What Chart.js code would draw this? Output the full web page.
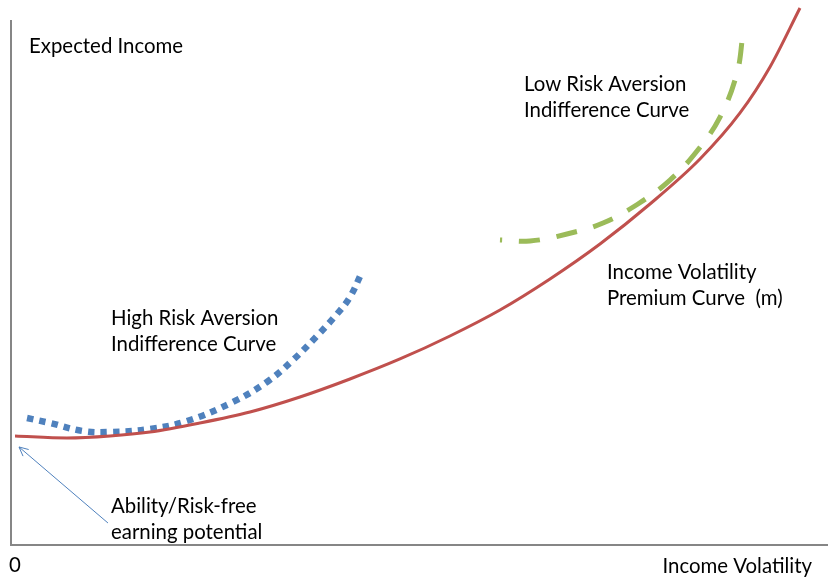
<!DOCTYPE html>
<html>
<head>
<meta charset="utf-8">
<script src="https://cdn.jsdelivr.net/npm/chart.js@4.4.1/dist/chart.umd.min.js"></script>
<style>
  html, body { margin: 0; padding: 0; background: #ffffff; }
  #wrap { width: 828px; height: 578px; }
</style>
</head>
<body>
<div id="wrap"><canvas id="c" width="828" height="578"></canvas></div>
<script>
// Values in chart units (x: income volatility 0..100, y: expected income 0..100)
const premiumX = [0.49, 6.85, 12.12, 17.01, 23.13, 29.25, 35.37, 41.49, 47.61, 53.73, 59.85, 65.97, 72.09, 78.21, 84.33, 89.23, 92.90, 96.57];
const premiumY = [20.76, 20.38, 20.76, 21.52, 23.24, 25.33, 28.19, 31.62, 35.43, 39.81, 44.76, 50.67, 57.33, 64.95, 73.52, 82.29, 91.05, 102.29];

const highX = [1.96, 4.77, 8.81, 12.12, 17.01, 21.54, 27.17, 31.33, 34.52, 37.45, 39.90, 41.49, 42.96];
const highY = [24.19, 23.24, 21.71, 21.52, 22.10, 23.62, 27.24, 31.05, 35.24, 39.81, 44.00, 47.24, 52.00];

const lowX = [59.85, 63.53, 68.05, 72.46, 76.74, 80.66, 83.97, 86.78, 88.86, 89.60];
const lowY = [58.10, 57.90, 59.24, 61.33, 64.95, 69.52, 75.05, 81.52, 89.90, 97.52];

const axisTitles = { y: 'Expected Income', x: 'Income Volatility', origin: '0' };
const curveLabels = {
  low: ['Low Risk Aversion', 'Indifference Curve'],
  premium: ['Income Volatility', 'Premium Curve  (m)'],
  high: ['High Risk Aversion', 'Indifference Curve'],
  ability: ['Ability/Risk-free', 'earning potential']
};
// arrow from label toward intercept (chart units)
const arrowFrom = { x: 11.87, y: 4.19 };
const arrowTo = { x: 0.98, y: 18.67 };

const toPts = (xs, ys) => xs.map((x, i) => ({ x: x, y: ys[i] }));

const FONT = '"Lato", "Open Sans", sans-serif';

const overlay = {
  id: 'overlay',
  afterDatasetsDraw(chart) {
    const ctx = chart.ctx;
    const xs = chart.scales.x, ys = chart.scales.y;
    const a = chart.chartArea;
    ctx.save();
    // axes
    ctx.strokeStyle = '#868686';
    ctx.lineWidth = 2;
    ctx.beginPath();
    ctx.moveTo(a.left, a.top);
    ctx.lineTo(a.left, a.bottom);
    ctx.lineTo(a.right, a.bottom);
    ctx.stroke();

    // arrow
    const fx = xs.getPixelForValue(arrowFrom.x), fy = ys.getPixelForValue(arrowFrom.y);
    const tx = xs.getPixelForValue(arrowTo.x), ty = ys.getPixelForValue(arrowTo.y);
    ctx.strokeStyle = '#4f81bd';
    ctx.lineWidth = 1;
    ctx.beginPath();
    ctx.moveTo(fx, fy);
    ctx.lineTo(tx, ty);
    const ang = Math.atan2(ty - fy, tx - fx);
    const hl = 10;
    ctx.moveTo(tx, ty);
    ctx.lineTo(tx - hl * Math.cos(ang - 0.45), ty - hl * Math.sin(ang - 0.45));
    ctx.moveTo(tx, ty);
    ctx.lineTo(tx - hl * Math.cos(ang + 0.45), ty - hl * Math.sin(ang + 0.45));
    ctx.stroke();

    // texts
    ctx.fillStyle = '#000000';
    ctx.font = '20.4px ' + FONT;
    ctx.textBaseline = 'middle';
    ctx.textAlign = 'left';
    const lines = (arr, x, y) => arr.forEach((t, i) => ctx.fillText(t, x, y + i * 26.5));
    ctx.fillText(axisTitles.y, 29, 46);
    lines(curveLabels.low, 524, 84);
    lines(curveLabels.premium, 607, 272);
    lines(curveLabels.high, 111, 318);
    lines(curveLabels.ability, 111, 506);
    ctx.fillText(axisTitles.origin, 9, 565);
    ctx.textAlign = 'right';
    ctx.fillText(axisTitles.x, 812, 566);
    ctx.restore();
  }
};

new Chart(document.getElementById('c'), {
  type: 'scatter',
  data: {
    datasets: [
      {
        label: 'Income Volatility Premium Curve (m)',
        data: toPts(premiumX, premiumY),
        showLine: true,
        borderColor: '#c0504d',
        borderWidth: 3,
        pointRadius: 0,
        cubicInterpolationMode: 'monotone',
        clip: false
      },
      {
        label: 'High Risk Aversion Indifference Curve',
        data: toPts(highX, highY),
        showLine: true,
        borderColor: '#4f81bd',
        borderWidth: 6.5,
        borderDash: [6.5, 6],
        borderCapStyle: 'butt',
        pointRadius: 0,
        tension: 0.4,
        clip: false
      },
      {
        label: 'Low Risk Aversion Indifference Curve',
        data: toPts(lowX, lowY),
        showLine: true,
        borderColor: '#9bbb59',
        borderWidth: 5,
        borderDash: [21, 17],
        borderDashOffset: 19,
        borderCapStyle: 'butt',
        pointRadius: 0,
        tension: 0.4,
        clip: false
      }
    ]
  },
  options: {
    responsive: false,
    animation: false,
    devicePixelRatio: 1,
    layout: { padding: { left: 11, right: 0, top: 20, bottom: 33 } },
    plugins: { legend: { display: false }, tooltip: { enabled: false } },
    scales: {
      x: { type: 'linear', min: 0, max: 100, display: false },
      y: { type: 'linear', min: 0, max: 100, display: false }
    }
  },
  plugins: [overlay]
});
</script>
</body>
</html>
